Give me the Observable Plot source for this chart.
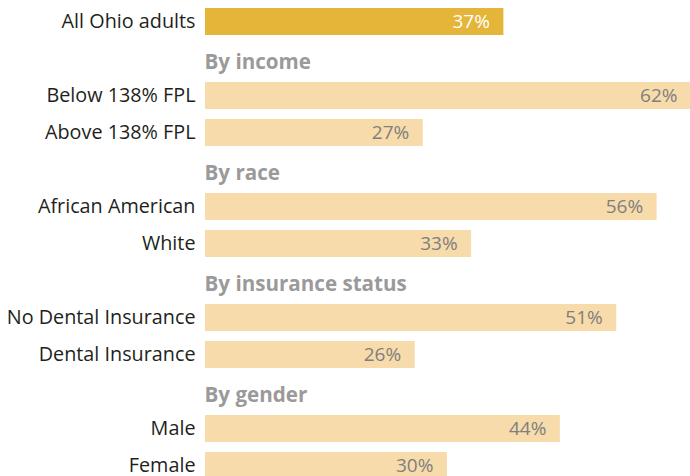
<!DOCTYPE html>
<html>
<head>
<meta charset="utf-8">
<script src="https://cdn.jsdelivr.net/npm/d3@7"></script>
<script src="https://cdn.jsdelivr.net/npm/@observablehq/plot@0.6"></script>
<style>
  html, body { margin: 0; padding: 0; background: #fff; overflow: hidden; }
  #chart svg { display: block; }
</style>
</head>
<body>
<div id="chart"></div>
<script>
// Data
const overallLabel = "All Ohio adults";
const overallValue = 37;
const groups = ["By income", "By race", "By insurance status", "By gender"];
const categories = [
  ["Below 138% FPL", "Above 138% FPL"],
  ["African American", "White"],
  ["No Dental Insurance", "Dental Insurance"],
  ["Male", "Female"]
];
const values = [
  [62, 27],
  [56, 33],
  [51, 26],
  [44, 30]
];

// Build rows
const rows = [{key: overallLabel, label: overallLabel, value: overallValue, type: "total"}];
groups.forEach((g, i) => {
  rows.push({key: g, label: g, value: null, type: "header"});
  categories[i].forEach((c, j) => rows.push({key: c, label: c, value: values[i][j], type: "bar"}));
});
const barRows = rows.filter(d => d.value != null);
const headerRows = rows.filter(d => d.type === "header");

const xMax = 62;
const x0 = 205, x1 = 705, W = 690;
const labelClamp = xMax * (W + 1 - x0) / (x1 - x0);

const chart = Plot.plot({
  width: 690,
  height: 476,
  margin: 0,
  x: {domain: [0, xMax], range: [x0, x1], axis: null},
  y: {domain: rows.map(d => d.key), range: [3.2, 3.2 + 37 * rows.length], paddingInner: 0.28, paddingOuter: 0.14, axis: null},
  style: {fontFamily: "'Open Sans', sans-serif", fontSize: "20px", background: "white", overflow: "hidden"},
  marks: [
    Plot.barX(barRows, {
      x: "value", y: "key",
      fill: d => d.type === "total" ? "#e5b53a" : "#f7dbaa"
    }),
    Plot.text(barRows, {
      x: 0, y: "key", text: "label", textAnchor: "end", dx: -10,
      fill: "#231f20", fontSize: 19.8
    }),
    Plot.text(headerRows, {
      x: 0, y: "key", text: "label", textAnchor: "start", dx: -1, dy: 3,
      fill: "#9a9a9a", fontWeight: "bold", fontSize: 20.6
    }),
    Plot.text(barRows, {
      x: d => Math.min(d.value, labelClamp), y: "key",
      text: d => d.value + "%", textAnchor: "end", dx: -14,
      fill: d => d.type === "total" ? "#ffffff" : "#7f7f7f", fontSize: 19
    })
  ]
});
document.getElementById("chart").appendChild(chart);
</script>
</body>
</html>
